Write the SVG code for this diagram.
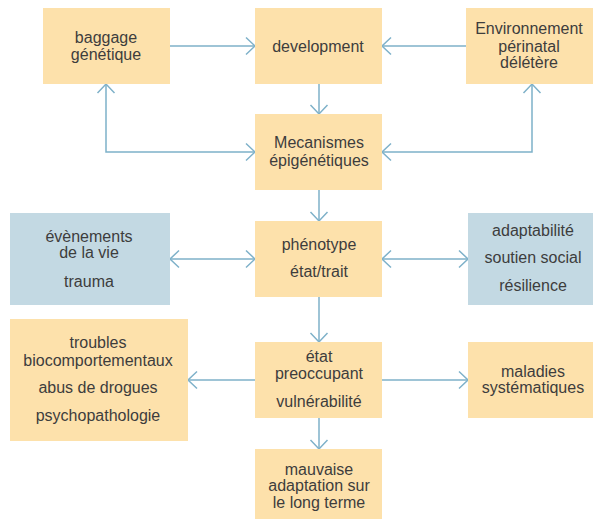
<svg xmlns="http://www.w3.org/2000/svg" width="593" height="519" viewBox="0 0 593 519">
<style>
.b{fill:#fde1ab}
.c{fill:#c3d9e3}
text{font-family:"Liberation Sans",Arial,sans-serif;font-size:16px;fill:#3d3d3d;text-anchor:middle}
.e{fill:none;stroke:#7eb1c9;stroke-width:1.5}
</style>
<defs>
<marker id="a" markerUnits="userSpaceOnUse" markerWidth="20" markerHeight="20" viewBox="-10 -10 20 20" refX="0" refY="0" orient="auto-start-reverse">
<path d="M-9,-8.5 L0,0 L-9,8.5" fill="none" stroke="#7eb1c9" stroke-width="1.5"/>
</marker>
</defs>
<g id="connectors">
<path class="e" d="M170,46 H255" marker-end="url(#a)"/>
<path class="e" d="M466,46 H382" marker-end="url(#a)"/>
<path class="e" d="M319,84 V114" marker-end="url(#a)"/>
<path class="e" d="M106,84 V152 H255" marker-start="url(#a)" marker-end="url(#a)"/>
<path class="e" d="M532,84 V152 H382" marker-start="url(#a)" marker-end="url(#a)"/>
<path class="e" d="M319,190 V221" marker-end="url(#a)"/>
<path class="e" d="M170,259 H255" marker-start="url(#a)" marker-end="url(#a)"/>
<path class="e" d="M382,259 H468" marker-start="url(#a)" marker-end="url(#a)"/>
<path class="e" d="M319,297 V342" marker-end="url(#a)"/>
<path class="e" d="M255,380 H188" marker-end="url(#a)"/>
<path class="e" d="M382,380 H468" marker-end="url(#a)"/>
<path class="e" d="M319,418 V449" marker-end="url(#a)"/>
</g>
<g id="baggage"><rect class="b" x="43" y="8" width="127" height="76"/><text x="106" y="43">baggage</text><text x="106" y="60">génétique</text></g>
<g id="development"><rect class="b" x="255" y="8" width="127" height="76"/><text x="318" y="52">development</text></g>
<g id="environnement"><rect class="b" x="466" y="8" width="127" height="76"/><text x="529" y="34">Environnement</text><text x="529" y="52">périnatal</text><text x="529" y="68">délétère</text></g>
<g id="mecanismes"><rect class="b" x="255" y="114" width="127" height="76"/><text x="319" y="148">Mecanismes</text><text x="319" y="166">épigénétiques</text></g>
<g id="evenements"><rect class="c" x="10" y="213" width="160" height="92"/><text x="89" y="242">évènements</text><text x="89" y="258">de la vie</text><text x="89" y="287">trauma</text></g>
<g id="phenotype"><rect class="b" x="255" y="221" width="127" height="76"/><text x="319" y="250">phénotype</text><text x="319" y="277">état/trait</text></g>
<g id="adaptabilite"><rect class="c" x="468" y="213" width="125" height="92"/><text x="533" y="236">adaptabilité</text><text x="533" y="263">soutien social</text><text x="533" y="291">résilience</text></g>
<g id="troubles"><rect class="b" x="10" y="319" width="178" height="122"/><text x="98" y="348">troubles</text><text x="98" y="366">biocomportementaux</text><text x="98" y="393">abus de drogues</text><text x="98" y="421">psychopathologie</text></g>
<g id="etat"><rect class="b" x="255" y="342" width="127" height="76"/><text x="319" y="362">état</text><text x="319" y="379">preoccupant</text><text x="319" y="407">vulnérabilité</text></g>
<g id="maladies"><rect class="b" x="468" y="342" width="125" height="76"/><text x="533" y="377">maladies</text><text x="533" y="393">systématiques</text></g>
<g id="mauvaise"><rect class="b" x="255" y="449" width="127" height="70"/><text x="319" y="475">mauvaise</text><text x="319" y="491">adaptation sur</text><text x="319" y="508">le long terme</text></g>
</svg>
